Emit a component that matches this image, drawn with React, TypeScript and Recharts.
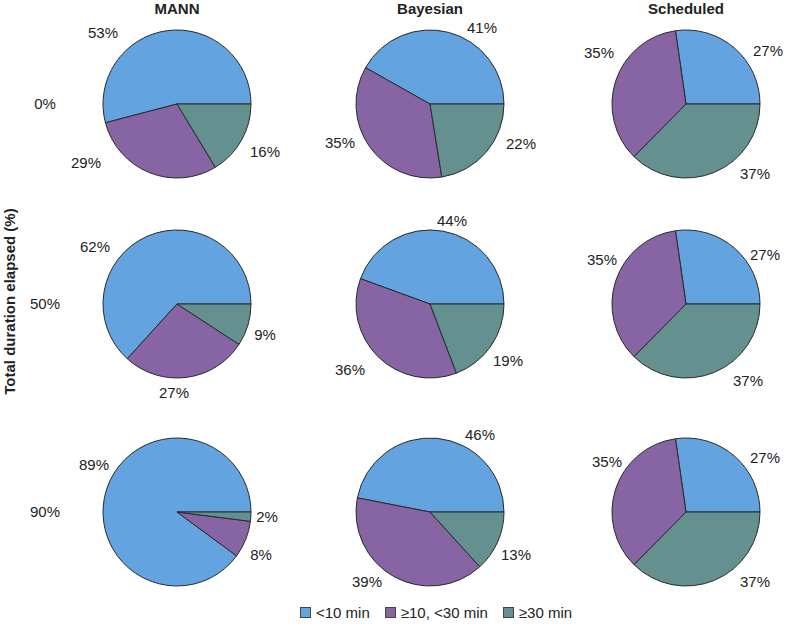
import { PieChart, Pie, Cell, Legend } from "recharts";

// categories / labels
const methods = ["MANN", "Bayesian", "Scheduled"];
const elapsed = ["0%", "50%", "90%"];
const categories = ["<10 min", "≥10, <30 min", "≥30 min"];

// share of each category (%), one array per method, one row per elapsed level
const mannShares = [
  [53, 29, 16],
  [62, 27, 9],
  [89, 8, 2],
];
const bayesianShares = [
  [41, 35, 22],
  [44, 36, 19],
  [46, 39, 13],
];
const scheduledShares = [
  [27, 35, 37],
  [27, 35, 37],
  [27, 35, 37],
];

const COLORS = ["#63a3e0", "#8764a3", "#64918f"];
const FONT = "'Liberation Sans', Arial, sans-serif";

const W = 785;
const H = 624;
const COL_X = [177, 430, 686];
const ROW_Y = [104, 304, 512];
const RADIUS = 74;

// where each slice label sits relative to its pie centre (layout only)
const LABEL_OFFSETS: [number, number][][][] = [
  [
    [[-74, -72], [-91, 58], [88, 47]],
    [[-82, -58], [-3, 88], [88, 30]],
    [[-83, -48], [84, 42], [90, 4]],
  ],
  [
    [[52, -77], [-90, 38], [91, 39]],
    [[22, -84], [-80, 65], [78, 56]],
    [[50, -78], [-63, 69], [86, 42]],
  ],
  [
    [[82, -54], [-87, -52], [69, 69]],
    [[79, -50], [-84, -45], [62, 76]],
    [[79, -55], [-79, -51], [69, 69]],
  ],
];

const allShares = [mannShares, bayesianShares, scheduledShares];

function makeLabel(col: number, row: number) {
  return (props: any) => {
    const { cx, cy, index, value } = props;
    const [dx, dy] = LABEL_OFFSETS[col][row][index];
    return (
      <text
        x={cx + dx}
        y={cy + dy}
        textAnchor="middle"
        dominantBaseline="central"
        fill="#222"
        fontSize={15}
        fontFamily={FONT}
      >
        {value}%
      </text>
    );
  };
}

function LegendContent() {
  return (
    <div
      style={{
        display: "flex",
        justifyContent: "flex-start",
        alignItems: "center",
        paddingLeft: 300,
        fontFamily: FONT,
        fontSize: 15,
        color: "#222",
        gap: 15,
      }}
    >
      {categories.map((c, i) => (
        <div key={c} style={{ display: "flex", alignItems: "center" }}>
          <span
            style={{
              display: "inline-block",
              width: 9,
              height: 9,
              background: COLORS[i],
              border: "1px solid #444",
              marginRight: 5,
            }}
          />
          <span>{c}</span>
        </div>
      ))}
    </div>
  );
}

export default function App() {
  return (
    <div
      style={{
        position: "absolute",
        left: 0,
        top: 0,
        width: W,
        height: H,
        background: "#fff",
        fontFamily: FONT,
      }}
    >
      <PieChart width={W} height={H} margin={{ top: 0, right: 0, bottom: 0, left: 0 }}>
        {allShares.map((rows, col) =>
          rows.map((vals, row) => (
            <Pie
              key={`${col}-${row}`}
              data={categories.map((name, i) => ({ name, value: vals[i] }))}
              dataKey="value"
              nameKey="name"
              cx={COL_X[col]}
              cy={ROW_Y[row]}
              outerRadius={RADIUS}
              startAngle={0}
              endAngle={360}
              stroke="#2a2a2a"
              strokeWidth={1}
              label={makeLabel(col, row)}
              labelLine={false}
              isAnimationActive={false}
            >
              {vals.map((_, i) => (
                <Cell key={i} fill={COLORS[i]} />
              ))}
            </Pie>
          ))
        )}
        <Legend
          content={LegendContent}
          verticalAlign="bottom"
          wrapperStyle={{ left: 0, width: W, top: 604 }}
        />
      </PieChart>

      {methods.map((m, i) => (
        <div
          key={m}
          style={{
            position: "absolute",
            left: COL_X[i] - 80,
            width: 160,
            top: 0,
            textAlign: "center",
            fontWeight: "bold",
            fontSize: 15,
            color: "#222",
          }}
        >
          {m}
        </div>
      ))}

      {elapsed.map((e, i) => (
        <div
          key={e}
          style={{
            position: "absolute",
            left: 20,
            width: 50,
            top: ROW_Y[i] - 9,
            textAlign: "center",
            fontSize: 15,
            color: "#222",
          }}
        >
          {e}
        </div>
      ))}

      <div
        style={{
          position: "absolute",
          left: 9 - 110,
          top: 303 - 10,
          width: 220,
          textAlign: "center",
          transform: "rotate(-90deg)",
          fontWeight: "bold",
          fontSize: 15,
          color: "#222",
          whiteSpace: "nowrap",
        }}
      >
        Total duration elapsed (%)
      </div>
    </div>
  );
}
